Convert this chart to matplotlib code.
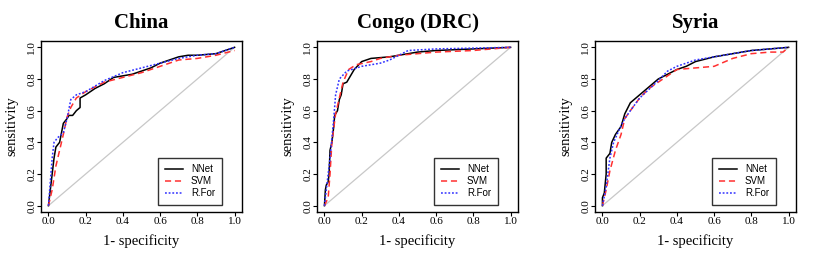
import matplotlib
matplotlib.use("Agg")
import matplotlib.pyplot as plt

# ROC curves: (1 - specificity, sensitivity)
titles = ["China", "Congo (DRC)", "Syria"]
models = ["NNet", "SVM", "R.For"]

china_nnet_x = [0, 0.02, 0.03, 0.04, 0.06, 0.08, 0.10, 0.11, 0.13, 0.15, 0.17, 0.17, 0.20, 0.25, 0.30, 0.35, 0.40, 0.45, 0.50, 0.55, 0.60, 0.65, 0.70, 0.75, 0.80, 0.90, 0.95, 1.0]
china_nnet_y = [0, 0.20, 0.30, 0.37, 0.40, 0.52, 0.55, 0.57, 0.57, 0.60, 0.62, 0.68, 0.70, 0.74, 0.77, 0.81, 0.82, 0.83, 0.85, 0.87, 0.90, 0.92, 0.94, 0.95, 0.95, 0.96, 0.98, 1.0]
china_svm_x = [0, 0.02, 0.04, 0.06, 0.08, 0.10, 0.12, 0.15, 0.20, 0.30, 0.40, 0.50, 0.60, 0.70, 0.80, 0.90, 1.0]
china_svm_y = [0, 0.10, 0.25, 0.35, 0.45, 0.56, 0.62, 0.68, 0.72, 0.78, 0.81, 0.84, 0.88, 0.92, 0.93, 0.95, 0.98]
china_rf_x = [0, 0.02, 0.03, 0.05, 0.08, 0.10, 0.12, 0.15, 0.20, 0.30, 0.40, 0.50, 0.60, 0.70, 0.80, 0.90, 1.0]
china_rf_y = [0, 0.30, 0.40, 0.43, 0.46, 0.55, 0.67, 0.70, 0.72, 0.79, 0.84, 0.87, 0.90, 0.93, 0.95, 0.96, 1.0]

congo_nnet_x = [0, 0.005, 0.01, 0.02, 0.025, 0.03, 0.04, 0.05, 0.055, 0.07, 0.08, 0.09, 0.10, 0.12, 0.14, 0.16, 0.20, 0.25, 0.35, 0.40, 0.50, 0.60, 0.80, 1.0]
congo_nnet_y = [0, 0.10, 0.13, 0.15, 0.20, 0.35, 0.40, 0.50, 0.57, 0.60, 0.67, 0.70, 0.77, 0.78, 0.82, 0.86, 0.91, 0.93, 0.94, 0.95, 0.97, 0.98, 0.99, 1.0]
congo_svm_x = [0, 0.02, 0.03, 0.04, 0.06, 0.08, 0.10, 0.13, 0.17, 0.25, 0.30, 0.40, 0.50, 0.60, 0.80, 1.0]
congo_svm_y = [0, 0.05, 0.20, 0.40, 0.58, 0.68, 0.78, 0.86, 0.89, 0.91, 0.93, 0.95, 0.96, 0.97, 0.98, 1.0]
congo_rf_x = [0, 0.01, 0.03, 0.05, 0.06, 0.08, 0.12, 0.20, 0.30, 0.35, 0.45, 0.60, 1.0]
congo_rf_y = [0, 0.10, 0.30, 0.55, 0.70, 0.80, 0.85, 0.88, 0.90, 0.92, 0.98, 0.99, 1.0]

syria_nnet_x = [0, 0, 0.01, 0.02, 0.02, 0.04, 0.05, 0.07, 0.10, 0.12, 0.15, 0.20, 0.25, 0.30, 0.35, 0.40, 0.45, 0.50, 0.60, 0.70, 0.80, 0.90, 1.0]
syria_nnet_y = [0, 0.05, 0.08, 0.20, 0.30, 0.33, 0.40, 0.45, 0.50, 0.58, 0.65, 0.70, 0.75, 0.80, 0.83, 0.86, 0.88, 0.91, 0.94, 0.96, 0.98, 0.99, 1.0]
syria_svm_x = [0, 0.02, 0.04, 0.07, 0.10, 0.12, 0.15, 0.20, 0.25, 0.30, 0.35, 0.40, 0.50, 0.60, 0.70, 0.80, 0.90, 0.97, 1.0]
syria_svm_y = [0, 0.10, 0.22, 0.35, 0.45, 0.55, 0.60, 0.68, 0.74, 0.78, 0.82, 0.86, 0.87, 0.88, 0.93, 0.96, 0.97, 0.97, 1.0]
syria_rf_x = [0, 0.02, 0.04, 0.06, 0.09, 0.12, 0.15, 0.20, 0.30, 0.35, 0.40, 0.50, 0.60, 0.70, 0.80, 1.0]
syria_rf_y = [0, 0.12, 0.30, 0.40, 0.48, 0.55, 0.60, 0.68, 0.79, 0.85, 0.88, 0.92, 0.94, 0.96, 0.98, 1.0]

curves = [
    [(china_nnet_x, china_nnet_y), (china_svm_x, china_svm_y), (china_rf_x, china_rf_y)],
    [(congo_nnet_x, congo_nnet_y), (congo_svm_x, congo_svm_y), (congo_rf_x, congo_rf_y)],
    [(syria_nnet_x, syria_nnet_y), (syria_svm_x, syria_svm_y), (syria_rf_x, syria_rf_y)],
]

styles = [
    dict(color="black", linestyle="-", linewidth=1.1),
    dict(color="#ff3030", linestyle=(0, (4, 2.5)), linewidth=1.1),
    dict(color="#3030ff", linestyle=(0, (1.2, 1.2)), linewidth=1.1),
]

plt.rcParams["font.family"] = ["Liberation Serif", "DejaVu Serif"]

fig = plt.figure(figsize=(8.3, 2.54), dpi=100)
lefts = [41, 317, 595]
ticks = [0, 0.2, 0.4, 0.6, 0.8, 1.0]
tick_labels = ["0.0", "0.2", "0.4", "0.6", "0.8", "1.0"]

for i, left in enumerate(lefts):
    ax = fig.add_axes([left / 830, 42 / 254, 201 / 830, 171 / 254])
    ax.plot([0, 1], [0, 1], color="#c8c8c8", linewidth=0.9)
    for (xs, ys), st, name in zip(curves[i], styles, models):
        ax.plot(xs, ys, label=name, **st)
    ax.set_xlim(-0.04, 1.04)
    ax.set_ylim(-0.04, 1.04)
    ax.set_xticks(ticks)
    ax.set_yticks(ticks)
    ax.set_xticklabels(tick_labels, fontsize=8)
    ax.set_yticklabels(tick_labels, fontsize=8, rotation=90, va="center")
    ax.tick_params(length=3, width=0.8, pad=0.5)
    for sp in ax.spines.values():
        sp.set_linewidth(1.0)
    ax.set_title(titles[i], fontsize=15, fontweight="bold", pad=9)
    ax.set_xlabel("1- specificity", fontsize=10.5, labelpad=6)
    ax.set_ylabel("sensitivity", fontsize=10.5, labelpad=6)
    leg = ax.legend(loc="lower right", bbox_to_anchor=(0.9, 0.04),
                    prop={"family": "Liberation Sans", "size": 7},
                    fancybox=False, framealpha=1, edgecolor="#333333",
                    handlelength=1.9, handletextpad=0.8, borderpad=0.7,
                    labelspacing=0.2, borderaxespad=0)
    leg.get_frame().set_linewidth(1.0)

fig.savefig("out.png", dpi=100)
